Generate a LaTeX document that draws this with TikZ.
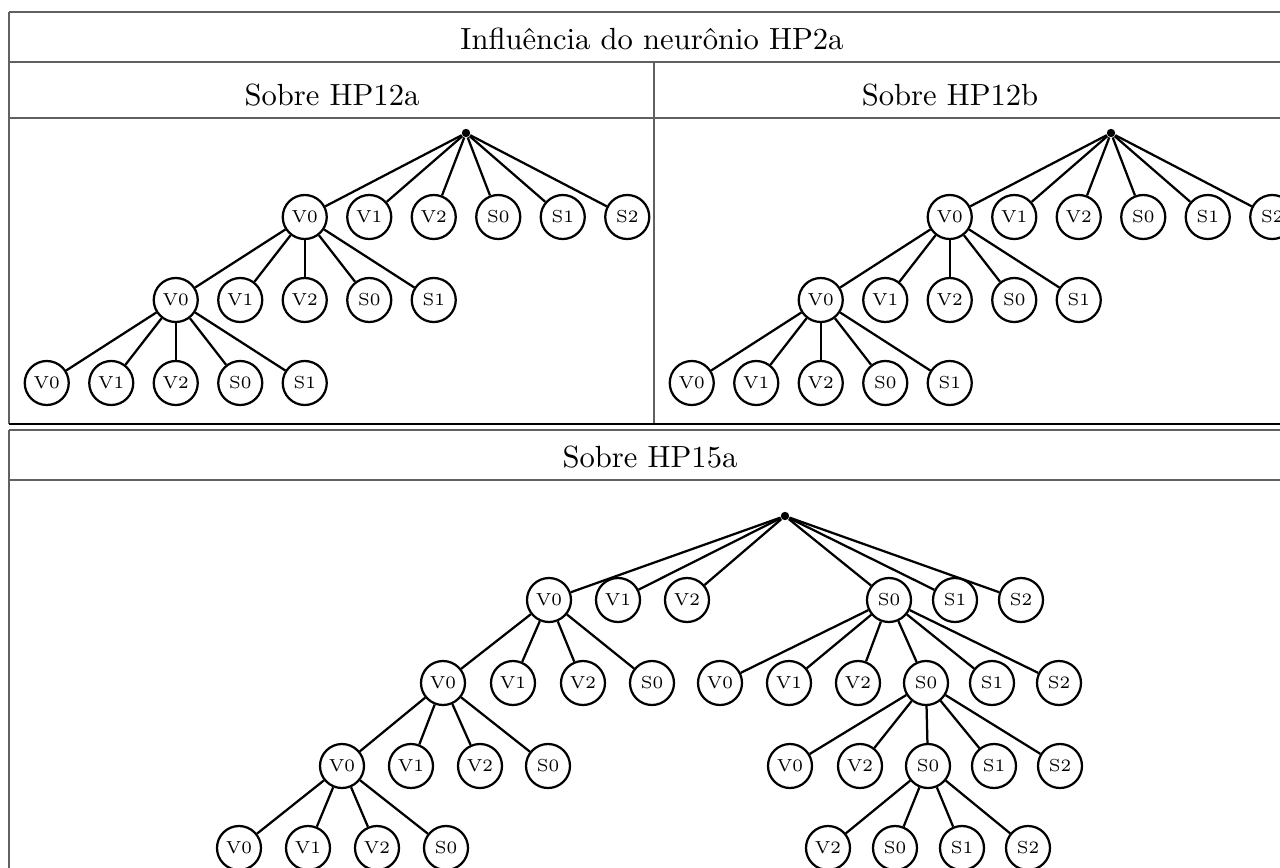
\documentclass[tikz,border=0pt]{standalone}
\usepackage{fontspec}
\begin{document}
\begin{tikzpicture}[x=0.33333pt,y=-0.33333pt,
  rule/.style={draw=black!62, line width=0.45pt},
  strongrule/.style={draw=black, line width=0.6pt},
  tnode/.style={circle, draw, line width=0.75pt, minimum size=14.67pt, inner sep=0pt,
    font=\fontsize{5.8}{7}\selectfont},
  rootdot/.style={circle, fill, inner sep=0pt, minimum size=2.8pt},
  edge/.style={line width=0.75pt},
  head/.style={font=\fontsize{10.2}{12}\selectfont, anchor=base}]
\useasboundingbox (0,0) rectangle (1280,868);
\clip (0,0) rectangle (1280,868);

% ---------- upper table ----------
\draw[rule] (9,12) -- (1299,12);
\draw[rule] (9,62) -- (1299,62);
\draw[rule] (9,118) -- (1299,118);
\draw[rule] (9,12) -- (9,424);
\draw[rule] (654,62) -- (654,424);
\draw[rule] (1299,12) -- (1299,424);
\draw[strongrule] (9,424) -- (1299,424);

\node[head] (title) at (652,49) {Influência do neurônio HP2a};
\node[head] (hA) at (332,105) {Sobre HP12a};
\node[head] (hB) at (950,105) {Sobre HP12b};

% small tree: #1 = name prefix, #2 = horizontal offset
\newcommand\drawsmalltree[2]{%
  \node[rootdot] (#1r) at (#2+466,133) {};
  \foreach \lab [count=\i] in {V0,V1,V2,S0,S1,S2}
    \node[tnode] (#1a\i) at ({#2+466+(\i-3.5)*64.5},217) {\lab};
  \foreach \lab [count=\i] in {V0,V1,V2,S0,S1}
    \node[tnode] (#1b\i) at ({#2+304.75+(\i-3)*64.5},300) {\lab};
  \foreach \lab [count=\i] in {V0,V1,V2,S0,S1}
    \node[tnode] (#1c\i) at ({#2+175.75+(\i-3)*64.5},383) {\lab};
  \foreach \i in {1,...,6} \draw[edge] (#1r) -- (#1a\i);
  \foreach \i in {1,...,5} \draw[edge] (#1a1) -- (#1b\i);
  \foreach \i in {1,...,5} \draw[edge] (#1b1) -- (#1c\i);
}
\drawsmalltree{A}{0}
\drawsmalltree{B}{645}

% ---------- lower table ----------
\draw[rule] (9,430) -- (1299,430);
\draw[rule] (9,480) -- (1299,480);
\draw[rule] (9,430) -- (9,900);
\draw[rule] (1299,430) -- (1299,900);

\node[head] (hC) at (650,467) {Sobre HP15a};

\node[rootdot] (r) at (785,516) {};
% level 1
\node[tnode] (p1) at (549,600) {V0};
\node[tnode] (p2) at (618,600) {V1};
\node[tnode] (p3) at (687,600) {V2};
\node[tnode] (p4) at (889,600) {S0};
\node[tnode] (p5) at (955,600) {S1};
\node[tnode] (p6) at (1021,600) {S2};
\foreach \i in {1,...,6} \draw[edge] (r) -- (p\i);
% level 2
\node[tnode] (q1) at (443,683) {V0};
\node[tnode] (q2) at (513,683) {V1};
\node[tnode] (q3) at (583,683) {V2};
\node[tnode] (q4) at (652,683) {S0};
\foreach \i in {1,...,4} \draw[edge] (p1) -- (q\i);
\node[tnode] (q5) at (720,683) {V0};
\node[tnode] (q6) at (789,683) {V1};
\node[tnode] (q7) at (858,683) {V2};
\node[tnode] (q8) at (926,683) {S0};
\node[tnode] (q9) at (992,683) {S1};
\node[tnode] (q10) at (1059,683) {S2};
\foreach \i in {5,...,10} \draw[edge] (p4) -- (q\i);
% level 3
\node[tnode] (s1) at (342,766) {V0};
\node[tnode] (s2) at (411,766) {V1};
\node[tnode] (s3) at (480,766) {V2};
\node[tnode] (s4) at (548,766) {S0};
\foreach \i in {1,...,4} \draw[edge] (q1) -- (s\i);
\node[tnode] (s5) at (790,766) {V0};
\node[tnode] (s6) at (860,766) {V2};
\node[tnode] (s7) at (928,766) {S0};
\node[tnode] (s8) at (994,766) {S1};
\node[tnode] (s9) at (1060,766) {S2};
\foreach \i in {5,...,9} \draw[edge] (q8) -- (s\i);
% level 4
\node[tnode] (u1) at (239,848) {V0};
\node[tnode] (u2) at (308,848) {V1};
\node[tnode] (u3) at (377,848) {V2};
\node[tnode] (u4) at (446,848) {S0};
\foreach \i in {1,...,4} \draw[edge] (s1) -- (u\i);
\node[tnode] (u5) at (828,848) {V2};
\node[tnode] (u6) at (895,848) {S0};
\node[tnode] (u7) at (962,848) {S1};
\node[tnode] (u8) at (1028,848) {S2};
\foreach \i in {5,...,8} \draw[edge] (s7) -- (u\i);
\end{tikzpicture}
\end{document}
